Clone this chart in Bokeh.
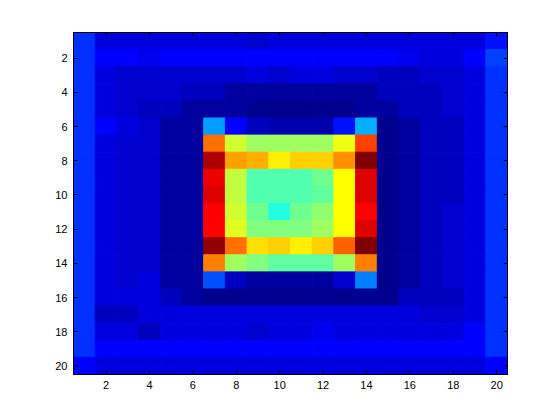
from bokeh.plotting import figure
from bokeh.models import LinearAxis, FixedTicker, LinearColorMapper, ColumnDataSource, Range1d
from bokeh.embed import file_html
from bokeh.resources import INLINE

# ---- data (20 x 20 matrix, row 1 at top) ----
r01 = [0.17, 0.09, 0.08, 0.08, 0.08, 0.08, 0.08, 0.09, 0.07, 0.08, 0.08, 0.08, 0.08, 0.08, 0.08, 0.08, 0.08, 0.08, 0.08, 0.14]
r02 = [0.17, 0.11, 0.12, 0.10, 0.11, 0.12, 0.12, 0.11, 0.11, 0.11, 0.11, 0.11, 0.11, 0.11, 0.11, 0.10, 0.09, 0.09, 0.11, 0.18]
r03 = [0.16, 0.09, 0.07, 0.07, 0.07, 0.07, 0.07, 0.07, 0.08, 0.07, 0.08, 0.08, 0.07, 0.07, 0.06, 0.06, 0.07, 0.07, 0.09, 0.16]
r04 = [0.16, 0.09, 0.07, 0.07, 0.07, 0.06, 0.05, 0.03, 0.02, 0.02, 0.02, 0.02, 0.02, 0.02, 0.05, 0.06, 0.06, 0.07, 0.09, 0.16]
r05 = [0.16, 0.09, 0.07, 0.06, 0.05, 0.03, 0.02, 0.02, 0.01, 0.01, 0.01, 0.01, 0.01, 0.02, 0.03, 0.05, 0.06, 0.07, 0.09, 0.16]
r06 = [0.16, 0.11, 0.08, 0.07, 0.03, 0.02, 0.28, 0.11, 0.05, 0.04, 0.04, 0.04, 0.14, 0.29, 0.01, 0.02, 0.06, 0.06, 0.08, 0.16]
r07 = [0.16, 0.08, 0.07, 0.07, 0.02, 0.02, 0.75, 0.57, 0.52, 0.52, 0.52, 0.52, 0.60, 0.80, 0.01, 0.02, 0.06, 0.06, 0.08, 0.16]
r08 = [0.16, 0.08, 0.07, 0.07, 0.02, 0.02, 0.95, 0.71, 0.70, 0.63, 0.66, 0.66, 0.73, 1.00, 0.01, 0.02, 0.06, 0.06, 0.08, 0.16]
r09 = [0.16, 0.08, 0.07, 0.07, 0.02, 0.02, 0.875, 0.56, 0.45, 0.45, 0.45, 0.47, 0.61, 0.90, 0.01, 0.02, 0.06, 0.06, 0.08, 0.16]
r10 = [0.16, 0.08, 0.07, 0.07, 0.02, 0.02, 0.90, 0.56, 0.45, 0.44, 0.44, 0.46, 0.61, 0.90, 0.01, 0.02, 0.06, 0.06, 0.08, 0.16]
r11 = [0.16, 0.08, 0.07, 0.07, 0.02, 0.02, 0.87, 0.57, 0.47, 0.40, 0.48, 0.50, 0.62, 0.87, 0.01, 0.02, 0.06, 0.07, 0.08, 0.16]
r12 = [0.16, 0.08, 0.07, 0.07, 0.02, 0.02, 0.87, 0.58, 0.49, 0.49, 0.49, 0.52, 0.62, 0.90, 0.01, 0.02, 0.06, 0.07, 0.08, 0.16]
r13 = [0.16, 0.08, 0.07, 0.07, 0.02, 0.02, 0.98, 0.76, 0.65, 0.67, 0.63, 0.66, 0.77, 1.00, 0.01, 0.02, 0.06, 0.07, 0.08, 0.16]
r14 = [0.16, 0.08, 0.07, 0.07, 0.02, 0.02, 0.74, 0.53, 0.49, 0.46, 0.46, 0.46, 0.53, 0.74, 0.01, 0.02, 0.06, 0.07, 0.08, 0.16]
r15 = [0.16, 0.08, 0.07, 0.08, 0.02, 0.02, 0.20, 0.06, 0.02, 0.02, 0.02, 0.02, 0.07, 0.24, 0.01, 0.02, 0.06, 0.07, 0.08, 0.16]
r16 = [0.16, 0.09, 0.08, 0.08, 0.05, 0.02, 0.01, 0.01, 0.01, 0.01, 0.01, 0.01, 0.01, 0.01, 0.01, 0.06, 0.06, 0.06, 0.09, 0.17]
r17 = [0.16, 0.06, 0.06, 0.08, 0.09, 0.08, 0.08, 0.08, 0.08, 0.08, 0.08, 0.08, 0.08, 0.08, 0.08, 0.08, 0.07, 0.07, 0.09, 0.17]
r18 = [0.16, 0.09, 0.09, 0.06, 0.09, 0.09, 0.09, 0.09, 0.07, 0.09, 0.09, 0.10, 0.09, 0.09, 0.09, 0.09, 0.09, 0.09, 0.11, 0.17]
r19 = [0.17, 0.12, 0.12, 0.12, 0.12, 0.12, 0.12, 0.12, 0.12, 0.12, 0.12, 0.12, 0.12, 0.12, 0.12, 0.12, 0.12, 0.12, 0.12, 0.17]
r20 = [0.12, 0.09, 0.08, 0.09, 0.09, 0.08, 0.09, 0.08, 0.09, 0.09, 0.09, 0.09, 0.09, 0.09, 0.09, 0.09, 0.09, 0.09, 0.09, 0.12]
rows = [r01, r02, r03, r04, r05, r06, r07, r08, r09, r10,
        r11, r12, r13, r14, r15, r16, r17, r18, r19, r20]
ticks = [2, 4, 6, 8, 10, 12, 14, 16, 18, 20]

# ---- MATLAB jet(64) palette ----
def jet(m=64):
    n = -(-m // 4)
    u = [i / n for i in range(1, n + 1)] + [1.0] * (n - 1) + [i / n for i in range(n, 0, -1)]
    g0 = -(-n // 2) - (1 if m % 4 == 1 else 0)
    g = [g0 + i for i in range(1, len(u) + 1)]
    R = [0.0] * m; G = [0.0] * m; B = [0.0] * m
    for k, gi in enumerate(g):
        ri, bi = gi + n, gi - n
        if 1 <= gi <= m: G[gi - 1] = u[k]
        if 1 <= ri <= m: R[ri - 1] = u[k]
        if 1 <= bi <= m: B[bi - 1] = u[k]
    return ["#%02x%02x%02x" % (round(r * 255), round(gg * 255), round(b * 255)) for r, gg, b in zip(R, G, B)]

xs, ys, vs = [], [], []
for i, row in enumerate(rows):
    for j, v in enumerate(row):
        xs.append(j + 1); ys.append(i + 1); vs.append(v)
src = ColumnDataSource(dict(x=xs, y=ys, v=vs))
mapper = LinearColorMapper(palette=jet(64), low=0, high=1)

p = figure(width=552, height=412, output_backend="svg", toolbar_location=None,
           x_range=Range1d(0.5, 20.5), y_range=Range1d(20.5, 0.5),
           min_border_left=73, min_border_right=45, min_border_top=32, min_border_bottom=38,
           background_fill_color="white", border_fill_color="white")
p.rect(x="x", y="y", width=1, height=1, source=src,
       fill_color={"field": "v", "transform": mapper},
       line_color={"field": "v", "transform": mapper}, line_width=1)

p.grid.visible = False
p.outline_line_color = "black"
p.outline_line_width = 1
for ax in (p.xaxis[0], p.yaxis[0]):
    ax.ticker = FixedTicker(ticks=ticks)
    ax.major_tick_in = 4
    ax.major_tick_out = 0
    ax.minor_tick_line_color = None
    ax.axis_line_color = "black"
    ax.major_tick_line_color = "black"
    ax.major_label_text_font = "Liberation Sans"
    ax.major_label_text_font_size = "11px"
    ax.major_label_text_color = "black"
    ax.major_label_standoff = 6

for loc in ("above", "right"):
    extra = LinearAxis(ticker=FixedTicker(ticks=ticks), major_tick_in=4, major_tick_out=0,
                       minor_tick_line_color=None, major_label_text_font_size="0px",
                       major_label_text_color=None, axis_line_color="black")
    p.add_layout(extra, loc)

open("out.html", "w").write(file_html(p, INLINE))
